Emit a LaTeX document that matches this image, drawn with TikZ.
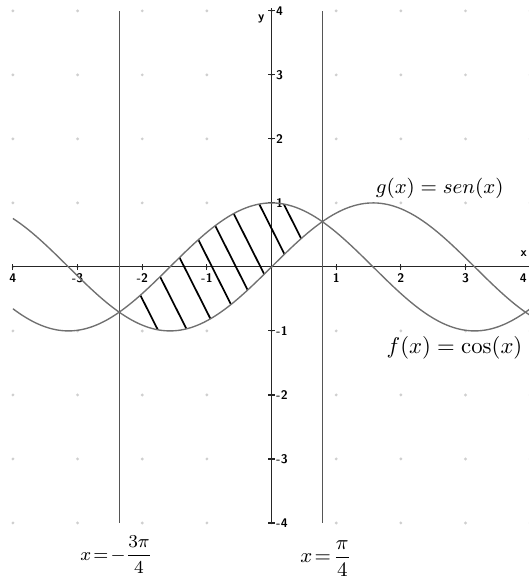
\documentclass[tikz,border=0pt]{standalone}
\definecolor{curveGray}{HTML}{707070}
\definecolor{guideGray}{HTML}{555555}
\definecolor{dotGray}{HTML}{CFCFCF}
\usepackage{amsmath, amssymb}
\usepackage{tikz}
\usetikzlibrary{calc}

\tikzset{
  curve/.style={curveGray, line width=0.6pt, samples=150, smooth},
  axisline/.style={black!85, line width=0.5pt},
  guide/.style={guideGray, line width=0.5pt},
  hatchline/.style={black, line width=0.75pt},
  ticklabel/.style={font=\fontsize{5.5}{6}\selectfont\sffamily\bfseries, inner sep=1pt},
  funclabel/.style={inner sep=1pt}
}

\begin{document}
\begin{tikzpicture}[x=1cm, y=0.99cm]
  \clip (-4.2,-4.86) rectangle (3.98,4.17);

  % grid points
  \foreach \i in {-4,...,4}
    \foreach \j in {-4,...,4}
      \fill[dotGray] (\i,\j) circle (0.7pt);

  % axes with ticks
  \draw[axisline] (-4,0) -- (4.3,0);
  \draw[axisline] (0,-4) -- (0,4.05);
  \foreach \i in {-4,...,4}
    \draw[axisline] (\i,-0.05) -- (\i,0.05);
  \foreach \j in {-4,...,-1,1,2,3,4}
    \draw[axisline] (-0.05,\j) -- (0.05,\j);

  % tick labels
  \node[ticklabel] (xtm4) at (-4,-0.17) {4};
  \foreach \i in {-3,-2,-1}
    \node[ticklabel] (xtm\i) at (\i,-0.17) {-\the\numexpr-\i\relax};
  \foreach \i in {1,2,3}
    \node[ticklabel] (xt\i) at (\i,-0.17) {\i};
  \node[ticklabel, anchor=east] (xt4) at (3.99,-0.17) {4};
  \foreach \j in {1,2,3,4}
    \node[ticklabel, anchor=west] (yt\j) at (0.03,\j) {\j};
  \foreach \j in {1,2,3,4}
    \node[ticklabel, anchor=west] (ytm\j) at (0.03,-\j) {-\j};
  \node[ticklabel] (ylab) at (-0.16,3.87) {y};
  \node[ticklabel, anchor=east] (xlab) at (3.99,0.2) {x};

  % vertical lines x = -3pi/4 and x = pi/4
  \draw[guide] ({-3*pi/4},-4) -- ({-3*pi/4},4);
  \draw[guide] ({pi/4},-4) -- ({pi/4},4);

  % hatched region between the curves
  \begin{scope}
    \clip plot[domain={-3*pi/4}:{pi/4}, samples=80] (\x,{cos(\x r)})
      -- plot[domain={pi/4}:{-3*pi/4}, samples=80] (\x,{sin(\x r)}) -- cycle;
    \foreach \c in {-2.25,-1.8,-1.35,-0.92,-0.55,-0.17,0.3,0.68}
      \draw[hatchline] (\c+0.6,-1.2) -- (\c-0.6,1.2);
  \end{scope}

  % the two functions
  \draw[curve] plot[domain=-4:4] (\x,{cos(\x r)});
  \draw[curve] plot[domain=-4:4] (\x,{sin(\x r)});

  % labels
  \node[funclabel, font=\fontsize{9}{11}\selectfont] (gLabel) at (2.6,1.23) {$g(x)=sen(x)$};
  \node[funclabel] (fLabel) at (2.83,-1.27) {$f(x)=\cos(x)$};
  \node[funclabel, font=\footnotesize] (leftLabel) at (-2.4,-4.5) {$x\!=\!-\dfrac{3\pi}{4}$};
  \node[funclabel, font=\small] (rightLabel) at (0.84,-4.55) {$x\!=\!\dfrac{\pi}{4}$};
\end{tikzpicture}
\end{document}
